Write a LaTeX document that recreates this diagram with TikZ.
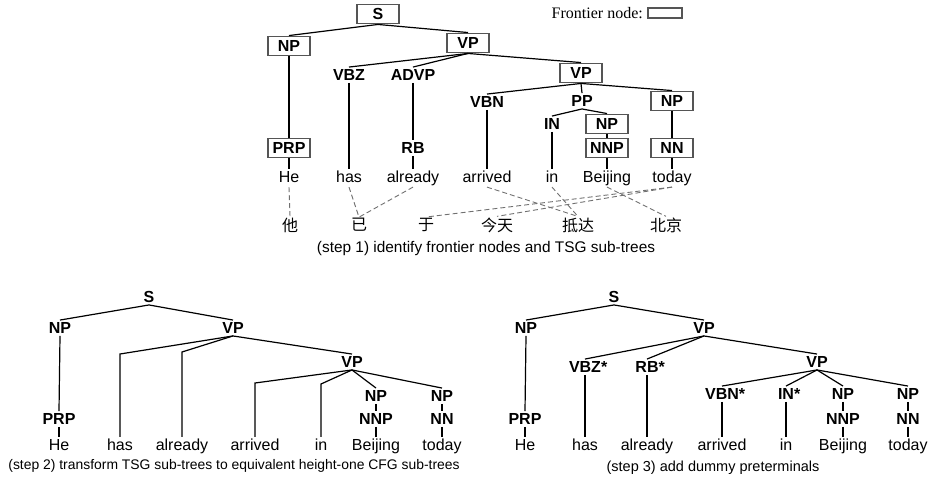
\documentclass[tikz,border=0pt]{standalone}
\usepackage{fontspec}
\setmainfont{Liberation Sans}
\newfontfamily\legendfont{Liberation Serif}
\newfontfamily\cjk{Noto Sans CJK SC}
\usetikzlibrary{positioning}
\definecolor{framegray}{HTML}{555555}
\definecolor{linkgray}{HTML}{707070}

\begin{document}
\begin{tikzpicture}[
    x=1pt, y=-1pt,
    % Constituent labels
    cat/.style={
        font=\fontsize{16}{18}\selectfont\bfseries,
        inner sep=2pt, text height=11.5pt, text depth=0pt
    },
    % Frontier nodes (framed)
    frontier/.style={
        cat, draw=framegray, line width=1.8pt, fill=white,
        minimum width=42pt, inner ysep=3.8pt
    },
    % Words of the sentence
    word/.style={
        font=\fontsize{16}{18}\selectfont, anchor=base,
        inner sep=1.5pt, text height=11.5pt, text depth=3.4pt
    },
    % Chinese words
    zh/.style={font=\cjk\fontsize{16}{18}\selectfont, inner sep=1pt},
    % Tree branches
    branch/.style={line width=1.2pt},
    % Word alignment links
    wordlink/.style={draw=linkgray, line width=0.9pt, dash pattern=on 5pt off 3pt},
    caption/.style={font=\fontsize{14.5}{17}\selectfont}
]
\useasboundingbox (0,0) rectangle (928,482);

% ---- Step 1: tree with frontier nodes ----
\node[frontier] (aS) at (378,14) {S};
\node[frontier] (aNP) at (289,46) {NP};
\node[frontier] (aVP) at (468,43) {VP};
\node[cat] (aVBZ) at (349,75) {VBZ};
\node[cat] (aADVP) at (413,75) {ADVP};
\node[frontier] (aVPb) at (581,73) {VP};
\node[cat] (aVBN) at (487,102) {VBN};
\node[cat] (aPP) at (582,101) {PP};
\node[frontier] (aNPc) at (672,101) {NP};
\node[cat] (aIN) at (552,124) {IN};
\node[frontier] (aNPb) at (607,124) {NP};
\node[frontier] (aPRP) at (289,148) {PRP};
\node[cat] (aRB) at (413,148) {RB};
\node[frontier] (aNNP) at (607,148) {NNP};
\node[frontier] (aNN) at (672,148) {NN};

% words
\node[word] (aHe) at (289,182) {He};
\node[word] (aHas) at (349,182) {has};
\node[word] (aAlready) at (413,182) {already};
\node[word] (aArrived) at (487,182) {arrived};
\node[word] (aIn) at (552,182) {in};
\node[word] (aBeijing) at (607,182) {Beijing};
\node[word] (aToday) at (672,182) {today};

% chinese sentence
\node[zh] (zhTa) at (290,225) {他};
\node[zh] (zhYi) at (359,225) {已};
\node[zh] (zhYu) at (426,225) {于};
\node[zh] (zhJintian) at (497,225) {今天};
\node[zh] (zhDida) at (578,225) {抵达};
\node[zh] (zhBeijing) at (666,225) {北京};

% branches
\draw[branch] (aS.south) -- (aNP.north);
\draw[branch] (aS.south) -- (aVP.north);
\draw[branch] (aNP.south) -- (aPRP.north);
\draw[branch] (aPRP.south) -- (aHe.north);
\draw[branch] (aVP.south) -- (aVBZ.north);
\draw[branch] (aVP.south) -- (aADVP.north);
\draw[branch] (aVP.south) -- (aVPb.north);
\draw[branch] (aVBZ.south) -- (aHas.north);
\draw[branch] (aADVP.south) -- (aRB.north);
\draw[branch] (aRB.south) -- (aAlready.north);
\draw[branch] (aVPb.south) -- (aVBN.north);
\draw[branch] (aVPb.south) -- (aPP.north);
\draw[branch] (aVPb.south) -- (aNPc.north);
\draw[branch] (aVBN.south) -- (aArrived.north);
\draw[branch] (aPP.south) -- (aIN.north);
\draw[branch] (aPP.south) -- (aNPb.north);
\draw[branch] (aIN.south) -- (aIn.north);
\draw[branch] (aNPb.south) -- (aNNP.north);
\draw[branch] (aNNP.south) -- (aBeijing.north);
\draw[branch] (aNPc.south) -- (aNN.north);
\draw[branch] (aNN.south) -- (aToday.north);

% alignment links
\draw[wordlink] (aHe.south) -- (zhTa.north);
\draw[wordlink] (aHas.south) -- (zhYi.north);
\draw[wordlink] (aAlready.south) -- (zhYi.north);
\draw[wordlink] (aArrived.south) -- (zhDida.north);
\draw[wordlink] (aIn.south) -- (zhDida.north);
\draw[wordlink] (aBeijing.south) -- (zhBeijing.north);
\draw[wordlink] (aToday.south) -- (zhYu.north);
\draw[wordlink] (aToday.south) -- (zhJintian.north);

\node[caption, font=\fontsize{15.4}{18}\selectfont] (capA) at (486,249) {(step 1) identify frontier nodes and TSG sub-trees};

% legend
\node[font=\legendfont\fontsize{16}{18}\selectfont, inner sep=0pt, anchor=east] (legText) at (643,13) {Frontier node:};
\node[draw=framegray, line width=1.8pt, minimum width=34pt, minimum height=10pt, inner sep=0pt, right=4pt of legText] (legBox) {};

% ---- Step 2: height-one CFG sub-trees ----
\node[cat] (bS) at (149,297) {S};
\node[cat] (bNP) at (60,328) {NP};
\node[cat] (bVP) at (233,328) {VP};
\node[cat] (bVPb) at (352,362) {VP};
\node[cat] (bNPb) at (376,396) {NP};
\node[cat] (bNPc) at (442,396) {NP};
\node[cat] (bPRP) at (59,419) {PRP};
\node[cat] (bNNP) at (376,419) {NNP};
\node[cat] (bNN) at (442,419) {NN};

\node[word] (bHe) at (59,450) {He};
\node[word] (bHas) at (120,450) {has};
\node[word] (bAlready) at (182,450) {already};
\node[word] (bArrived) at (255,450) {arrived};
\node[word] (bIn) at (321,450) {in};
\node[word] (bBeijing) at (376,450) {Beijing};
\node[word] (bToday) at (442,450) {today};

\draw[branch] (bS.south) -- (bNP.north);
\draw[branch] (bS.south) -- (bVP.north);
\draw[branch] (bNP.south) -- (bPRP.north);
\draw[branch] (bPRP.south) -- (bHe.north);
\draw[branch] (bVP.south) -- (bHas |- 0,354) -- (bHas.north);
\draw[branch] (bVP.south) -- (bAlready |- 0,352) -- (bAlready.north);
\draw[branch] (bVP.south) -- (bVPb.north);
\draw[branch] (bVPb.south) -- (bArrived |- 0,383) -- (bArrived.north);
\draw[branch] (bVPb.south) -- (bIn |- 0,384) -- (bIn.north);
\draw[branch] (bVPb.south) -- (bNPb.north);
\draw[branch] (bVPb.south) -- (bNPc.north);
\draw[branch] (bNPb.south) -- (bNNP.north);
\draw[branch] (bNNP.south) -- (bBeijing.north);
\draw[branch] (bNPc.south) -- (bNN.north);
\draw[branch] (bNN.south) -- (bToday.north);

\node[caption, font=\fontsize{13.9}{17}\selectfont] (capB) at (234,466) {(step 2) transform TSG sub-trees to equivalent height-one CFG sub-trees};

% ---- Step 3: dummy preterminals ----
\node[cat] (cS) at (614,297) {S};
\node[cat] (cNP) at (526,328) {NP};
\node[cat] (cVP) at (704,328) {VP};
\node[cat] (cVBZ) at (585,367) {VBZ\rlap{*}};
\node[cat] (cRB) at (647,367) {RB\rlap{*}};
\node[cat] (cVPb) at (817,362) {VP};
\node[cat] (cVBN) at (722,394) {VBN\rlap{*}};
\node[cat] (cIN) at (786,394) {IN\rlap{*}};
\node[cat] (cNPb) at (843,394) {NP};
\node[cat] (cNPc) at (908,394) {NP};
\node[cat] (cPRP) at (525,419) {PRP};
\node[cat] (cNNP) at (843,419) {NNP};
\node[cat] (cNN) at (908,419) {NN};

\node[word] (cHe) at (525,450) {He};
\node[word] (cHas) at (585,450) {has};
\node[word] (cAlready) at (647,450) {already};
\node[word] (cArrived) at (722,450) {arrived};
\node[word] (cIn) at (786,450) {in};
\node[word] (cBeijing) at (843,450) {Beijing};
\node[word] (cToday) at (908,450) {today};

\draw[branch] (cS.south) -- (cNP.north);
\draw[branch] (cS.south) -- (cVP.north);
\draw[branch] (cNP.south) -- (cPRP.north);
\draw[branch] (cPRP.south) -- (cHe.north);
\draw[branch] (cVP.south) -- (cVBZ.north);
\draw[branch] (cVP.south) -- (cRB.north);
\draw[branch] (cVP.south) -- (cVPb.north);
\draw[branch] (cVBZ.south) -- (cHas.north);
\draw[branch] (cRB.south) -- (cAlready.north);
\draw[branch] (cVPb.south) -- (cVBN.north);
\draw[branch] (cVPb.south) -- (cIN.north);
\draw[branch] (cVPb.south) -- (cNPb.north);
\draw[branch] (cVPb.south) -- (cNPc.north);
\draw[branch] (cVBN.south) -- (cArrived.north);
\draw[branch] (cIN.south) -- (cIn.north);
\draw[branch] (cNPb.south) -- (cNNP.north);
\draw[branch] (cNNP.south) -- (cBeijing.north);
\draw[branch] (cNPc.south) -- (cNN.north);
\draw[branch] (cNN.south) -- (cToday.north);

\node[caption] (capC) at (713,468) {(step 3) add dummy preterminals};

\end{tikzpicture}
\end{document}
